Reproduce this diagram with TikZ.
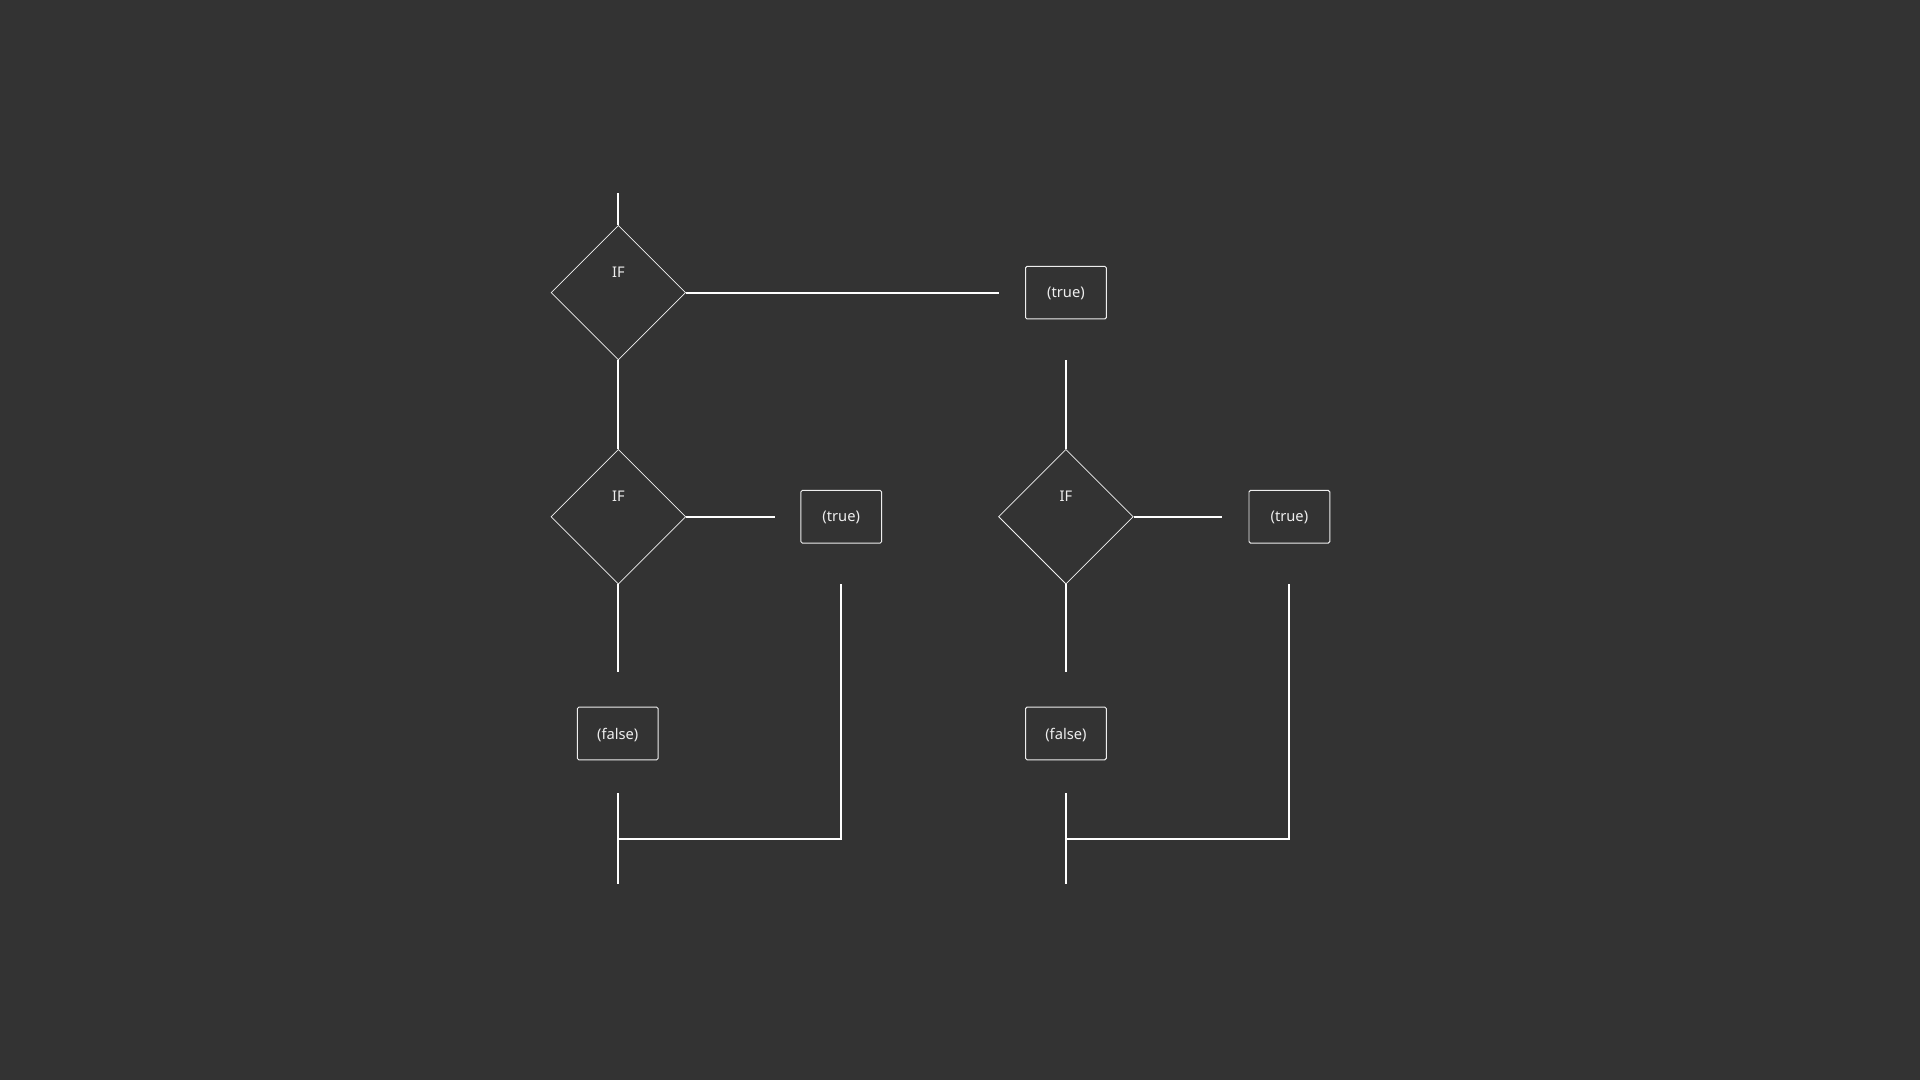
\documentclass[tikz,border=0pt]{standalone}
\usepackage{fontspec}
\setmainfont{Noto Sans}
\usetikzlibrary{shapes.geometric,positioning}
\definecolor{bg}{HTML}{333333}
\definecolor{ink}{HTML}{EEEEEE}
\tikzset{
	decision/.style={draw=ink!85, shape=diamond, line width=0.6pt, minimum width=110pt, minimum height=110pt, inner sep=0pt},
	outcome/.style={draw=ink, rectangle, rounded corners=1.2pt, line width=0.8pt, minimum width=66pt, minimum height=43pt, text=ink, text depth=0pt, font=\fontsize{12}{14}\selectfont},
	flow/.style={draw=white, line width=1.6pt},
	every label/.style={text=ink, font=\fontsize{12}{14}\selectfont}
}

\begin{document}
\begin{tikzpicture}[x=1pt, y=-1pt]
	\fill[bg] (0,0) rectangle (1568,882);
	% decisions
	\node[decision, label={[yshift=17pt]center:IF}] (if1) at (505,239) {};
	\node[decision, label={[yshift=17pt]center:IF}] (if2) at (505,422) {};
	\node[decision, label={[yshift=17pt]center:IF}] (if3) at (870.5,422) {};
	% outcomes
	\node[outcome] (true1) at (870.5,239) {(true)};
	\node[outcome] (true2) at (687,422) {(true)};
	\node[outcome] (true3) at (1053,422) {(true)};
	\node[outcome] (false2) at (504.5,599) {(false)};
	\node[outcome] (false3) at (870.5,599) {(false)};
	% loose ends
	\coordinate (in) at (505,158);
	\coordinate (join2) at (505,685);
	\coordinate (join3) at (870.5,685);
	\coordinate (out2) at (505,722);
	\coordinate (out3) at (870.5,722);
	% connectors
	\draw[flow] (in) -- (if1.north);
	\draw[flow] (if1.east) -- ([xshift=-21pt]true1.west);
	\draw[flow] (if1.south) -- (if2.north);
	\draw[flow] (true1.south |- if1.south) -- (if3.north);
	\draw[flow] (if2.east) -- ([xshift=-21pt]true2.west);
	\draw[flow] (if3.east) -- ([xshift=-22pt]true3.west);
	\draw[flow] (if2.south) -- ([yshift=28pt]false2.north -| if2.south);
	\draw[flow] (if3.south) -- ([yshift=28pt]false3.north);
	\draw[flow] (true2.south |- if2.south) -- (true2.south |- join2) -- (join2);
	\draw[flow] (true3.south |- if3.south) -- (true3.south |- join3) -- (join3);
	\draw[flow] ([yshift=-27pt]false2.south -| if2.south) -- (out2);
	\draw[flow] ([yshift=-27pt]false3.south) -- (out3);
\end{tikzpicture}
\end{document}
